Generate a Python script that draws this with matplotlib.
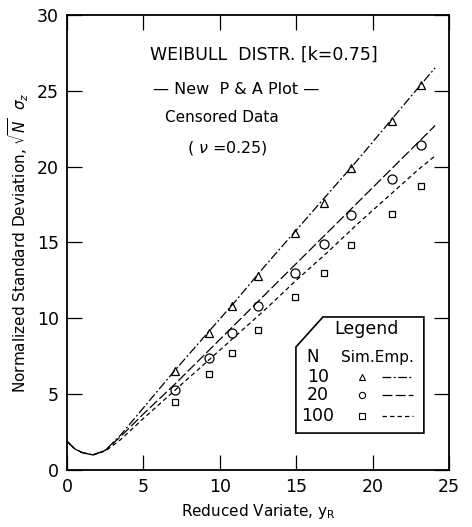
import matplotlib
matplotlib.use("Agg")
import matplotlib.pyplot as plt
from matplotlib.patches import Polygon

# simulated points (same y_R for all three N)
y_r = [7.1, 9.3, 10.8, 12.5, 14.9, 16.8, 18.6, 21.3, 23.2]
sim_10 = [6.5, 9.0, 10.8, 12.8, 15.6, 17.6, 19.9, 23.0, 25.4]
sim_20 = [5.3, 7.4, 9.0, 10.8, 13.0, 14.9, 16.8, 19.2, 21.4]
sim_100 = [4.5, 6.3, 7.7, 9.2, 11.4, 13.0, 14.8, 16.9, 18.7]

curve_x = [0.0, 0.5, 1.0, 1.7, 2.5, 3.5, 5.0, 7.0, 9.0, 11.0, 13.0, 15.0, 17.0, 19.0, 21.0, 23.0, 24.1]
emp_10 = [1.9, 1.4, 1.15, 1.0, 1.3, 2.3, 4.1, 6.5, 8.8, 11.1, 13.5, 15.8, 18.1, 20.4, 22.8, 25.2, 26.5]
emp_20 = [1.9, 1.4, 1.15, 1.0, 1.3, 2.2, 3.7, 5.6, 7.6, 9.6, 11.6, 13.6, 15.6, 17.6, 19.6, 21.6, 22.7]
emp_100 = [1.9, 1.4, 1.15, 1.0, 1.25, 2.0, 3.4, 5.2, 7.0, 8.8, 10.6, 12.5, 14.3, 16.2, 18.0, 19.8, 20.7]

legend_n = ["10", "20", "100"]

plt.rcParams["font.family"] = "DejaVu Sans"
fig = plt.figure(figsize=(4.72, 5.27), dpi=100)
ax = fig.add_axes([0.142, 0.108, 0.809, 0.864])

ax.plot(curve_x, emp_10, color="black", lw=0.9, dashes=[7, 2, 1.5, 2])
ax.plot(curve_x, emp_20, color="black", lw=0.9, dashes=[8, 2.5])
ax.plot(curve_x, emp_100, color="black", lw=0.9, dashes=[3.5, 2.5])
ax.plot(y_r, sim_10, ls="none", marker="^", mfc="none", mec="black", ms=6, mew=0.9)
ax.plot(y_r, sim_20, ls="none", marker="o", mfc="none", mec="black", ms=6.5, mew=0.9)
ax.plot(y_r, sim_100, ls="none", marker="s", mfc="none", mec="black", ms=5, mew=0.9)

ax.set_xlim(0, 25)
ax.set_ylim(0, 30)
ax.set_xticks([0, 5, 10, 15, 20, 25])
ax.set_yticks([0, 5, 10, 15, 20, 25, 30])
ax.tick_params(direction="in", length=11, width=0.9, top=True, right=True,
               labelsize=12.5, pad=6)
for s in ax.spines.values():
    s.set_linewidth(1.3)

ax.set_xlabel(r"Reduced Variate, $\mathregular{y_R}$", fontsize=11)
ax.set_ylabel(r"Normalized Standard Deviation, $\sqrt{N}$  $\sigma_z$", fontsize=11)

ax.text(0.515, 0.912, "WEIBULL  DISTR. [k=0.75]", transform=ax.transAxes, ha="center", va="center", fontsize=12.5)
ax.text(0.442, 0.835, "— New  P & A Plot —", transform=ax.transAxes, ha="center", va="center", fontsize=11.5)
ax.text(0.405, 0.774, "Censored Data", transform=ax.transAxes, ha="center", va="center", fontsize=11)
ax.text(0.42, 0.708, r"( $\nu$ =0.25)", transform=ax.transAxes, ha="center", va="center", fontsize=11.5)

# legend box with chamfered corner
x0, x1 = (296 - 67) / 382, (424 - 67) / 382
y0, y1 = (470 - 433) / 455, (470 - 317) / 455
xc, yc = (323 - 67) / 382, (470 - 347) / 455
box = Polygon([(x0, y0), (x1, y0), (x1, y1), (xc, y1), (x0, yc)], closed=True,
              transform=ax.transAxes, facecolor="white", edgecolor="black", lw=1.2, zorder=5)
ax.add_patch(box)
ax.text(0.785, 0.310, "Legend", transform=ax.transAxes, ha="center", va="center", fontsize=12.5, zorder=6)
ax.text(0.644, 0.248, "N", transform=ax.transAxes, ha="center", va="center", fontsize=12, zorder=6)
ax.text(0.814, 0.248, "Sim.Emp.", transform=ax.transAxes, ha="center", va="center", fontsize=11, zorder=6)
markers = ["^", "o", "s"]
dashes = [[7, 2, 1.5, 2], [8, 2.5], [3.5, 2.5]]
rows = [0.204, 0.165, 0.118]
for i, n in enumerate(legend_n):
    yy = rows[i]
    ax.text(0.657, yy, n, transform=ax.transAxes, ha="center", va="center", fontsize=12.5, zorder=6)
    ax.plot([0.772], [yy], transform=ax.transAxes, marker=markers[i], mfc="none",
            mec="black", ms=4.5, mew=0.8, zorder=6)
    ax.plot([0.825, 0.906], [yy, yy], transform=ax.transAxes, color="black",
            lw=0.9, dashes=dashes[i], zorder=6)

fig.savefig("out.png", dpi=100)
